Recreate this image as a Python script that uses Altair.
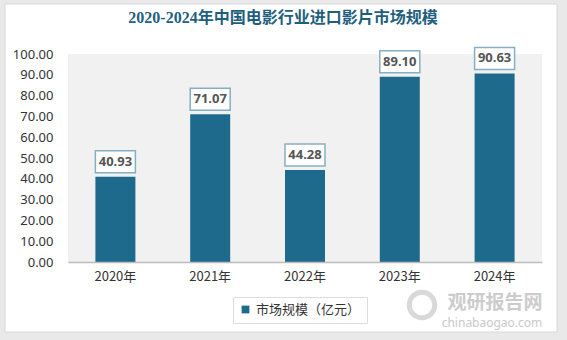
import altair as alt
import pandas as pd

years = ["2020年", "2021年", "2022年", "2023年", "2024年"]
values = [40.93, 71.07, 44.28, 89.10, 90.63]
series = ["市场规模（亿元）"] * 5
title_text = "2020-2024年中国电影行业进口影片市场规模"

df = pd.DataFrame({"year": years, "value": values, "series": series})

BAR = "#1e6a8d"
W, H = 474, 208
L, T = 68, 54

base = alt.Chart(df)

x_enc = alt.X("year:N", sort=years, title=None,
              scale=alt.Scale(paddingInner=0.58, paddingOuter=0.29),
              axis=alt.Axis(labelAngle=0, labelFontSize=13, labelColor="#333333",
                            labelFont="Noto Sans CJK SC", ticks=False, zindex=1,
                            domainColor="#bdbdbd", domainWidth=1.5, labelPadding=8))
y_enc = alt.Y("value:Q", title=None,
              scale=alt.Scale(domain=[0, 100]),
              axis=alt.Axis(values=list(range(0, 101, 10)), format=".2f", grid=False,
                            ticks=False, domain=False, labelFontSize=13, zindex=1,
                            labelOverlap=False,
                            labelColor="#333333", labelFont="Noto Sans", labelPadding=15))

one = "datum.year == '2020年'"

frame = base.mark_rect(fill="white", stroke="#d8d8d8", strokeWidth=1).encode(
    x=alt.value(5 - L), x2=alt.value(557 - L), y=alt.value(4 - T), y2=alt.value(332 - T)
).transform_filter(one)

plotbg = base.mark_rect(fill="#f1f1f1").encode(
    x=alt.value(0), x2=alt.value(W), y=alt.value(0), y2=alt.value(H)
).transform_filter(one)

bars = base.mark_bar(size=40).encode(
    x=x_enc, y=y_enc,
    color=alt.Color("series:N", title=None,
                    scale=alt.Scale(range=[BAR]),
                    legend=alt.Legend(orient="none", legendX=165, legendY=243,
                                      symbolType="square", symbolSize=60,
                                      labelFontSize=13, labelFont="Noto Sans CJK SC",
                                      labelColor="#333333", strokeColor="#dddddd",
                                      fillColor="white", padding=6))
)

boxes = base.mark_bar(size=40, fill="white", stroke="#86aec3", strokeWidth=1.5,
                      yOffset=-26, y2Offset=-4).encode(
    x=x_enc, y=y_enc, y2="value:Q"
)

labels = base.mark_text(dy=-15, fontSize=13, fontWeight="bold", color="#555555",
                        font="Noto Sans").encode(
    x=x_enc, y=y_enc, text=alt.Text("value:Q", format=".2f")
)

title = base.mark_text(fontSize=16, fontWeight="bold", color="#1f5f7e",
                       font="Liberation Serif, Noto Sans CJK SC").encode(
    x=alt.value(283 - L), y=alt.value(18 - T), text=alt.value(title_text)
).transform_filter(one)

wm_logo = base.mark_point(shape="circle", size=650, filled=False, strokeWidth=5,
                          color="#d0d0d0", opacity=0.8).encode(
    x=alt.value(422 - L), y=alt.value(305 - T)
).transform_filter(one)
wm1 = base.mark_text(fontSize=19, fontWeight="bold", color="#c4c4c4", opacity=0.85,
                     font="Noto Sans CJK SC").encode(
    x=alt.value(495 - L), y=alt.value(303 - T), text=alt.value("观研报告网")
).transform_filter(one)
wm2 = base.mark_text(fontSize=12, color="#c4c4c4", opacity=0.9, font="Noto Sans").encode(
    x=alt.value(492 - L), y=alt.value(323 - T), text=alt.value("chinabaogao.com")
).transform_filter(one)

chart = alt.layer(frame, plotbg, bars, boxes, labels, title, wm_logo, wm1, wm2).properties(
    width=W, height=H,
    autosize=alt.AutoSizeParams(type="none"),
    padding={"left": L, "top": T, "right": 567 - L - W, "bottom": 340 - T - H},
    background="#e9e9e9",
).configure_view(stroke=None)

chart.save("out.html", embed_options={"renderer": "svg", "actions": False})
